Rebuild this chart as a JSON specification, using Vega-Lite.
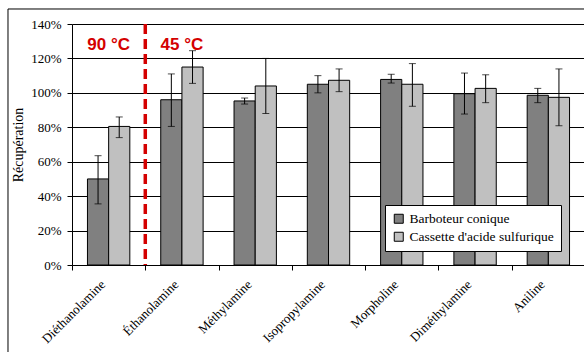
{
  "$schema": "https://vega.github.io/schema/vega-lite/v6.json",
  "width": 513,
  "height": 241,
  "autosize": "none",
  "padding": {"left": 72, "top": 24, "right": 0, "bottom": 87},
  "background": "white",
  "config": {
    "view": {"stroke": null},
    "font": "Liberation Serif",
    "axisY": {
      "titleFont": "Liberation Serif",
      "titleFontSize": 14,
      "titleFontWeight": "normal",
      "titleColor": "black",
      "titlePadding": 5,
      "labelFont": "Liberation Serif",
      "labelFontSize": 13,
      "labelColor": "black",
      "labelPadding": 6,
      "tickColor": "black",
      "tickSize": 5,
      "domainColor": "black",
      "grid": true,
      "gridColor": "black",
      "gridWidth": 1
    }
  },
  "datasets": {
    "bars": [
      {"compound": "Diéthanolamine", "series": "Barboteur conique", "value": 0.50, "lo": 0.355, "hi": 0.635},
      {"compound": "Diéthanolamine", "series": "Cassette d'acide sulfurique", "value": 0.805, "lo": 0.74, "hi": 0.86},
      {"compound": "Éthanolamine", "series": "Barboteur conique", "value": 0.96, "lo": 0.805, "hi": 1.11},
      {"compound": "Éthanolamine", "series": "Cassette d'acide sulfurique", "value": 1.15, "lo": 1.055, "hi": 1.245},
      {"compound": "Méthylamine", "series": "Barboteur conique", "value": 0.953, "lo": 0.935, "hi": 0.97},
      {"compound": "Méthylamine", "series": "Cassette d'acide sulfurique", "value": 1.04, "lo": 0.88, "hi": 1.20},
      {"compound": "Isopropylamine", "series": "Barboteur conique", "value": 1.05, "lo": 1.0, "hi": 1.10},
      {"compound": "Isopropylamine", "series": "Cassette d'acide sulfurique", "value": 1.073, "lo": 1.007, "hi": 1.139},
      {"compound": "Morpholine", "series": "Barboteur conique", "value": 1.078, "lo": 1.057, "hi": 1.108},
      {"compound": "Morpholine", "series": "Cassette d'acide sulfurique", "value": 1.05, "lo": 0.922, "hi": 1.17},
      {"compound": "Diméthylamine", "series": "Barboteur conique", "value": 0.995, "lo": 0.877, "hi": 1.115},
      {"compound": "Diméthylamine", "series": "Cassette d'acide sulfurique", "value": 1.026, "lo": 0.943, "hi": 1.105},
      {"compound": "Aniline", "series": "Barboteur conique", "value": 0.986, "lo": 0.943, "hi": 1.026},
      {"compound": "Aniline", "series": "Cassette d'acide sulfurique", "value": 0.974, "lo": 0.809, "hi": 1.139}
    ],
    "temps": [
      {"compound": "Diéthanolamine", "label": "90 °C"},
      {"compound": "Éthanolamine", "label": "45 °C"}
    ],
    "divider": [
      {"compound": "Éthanolamine"}
    ],
    "frame": [
      {"part": "frame"}
    ]
  },
  "layer": [
    {
      "layer": [
        {
          "data": {"name": "bars"},
          "encoding": {
            "x": {
              "field": "compound",
              "type": "nominal",
              "scale": {
                "domain": ["Diéthanolamine", "Éthanolamine", "Méthylamine", "Isopropylamine", "Morpholine", "Diméthylamine", "Aniline"],
                "paddingInner": 0,
                "paddingOuter": 0
              },
              "axis": {
                "title": null,
                "labelAngle": -45,
                "labelAlign": "right",
                "labelBaseline": "middle",
                "labelFont": "Liberation Serif",
                "labelFontSize": 13,
                "labelColor": "black",
                "labelPadding": 12,
                "labelOffset": -6,
                "tickBand": "extent",
                "tickColor": "black",
                "tickSize": 5,
                "domainColor": "black",
                "grid": false
              }
            },
            "xOffset": {
              "field": "series",
              "type": "nominal",
              "scale": {"paddingInner": 0, "paddingOuter": 0.73}
            }
          },
          "layer": [
            {
              "mark": {"type": "bar", "stroke": "black", "strokeWidth": 1},
              "encoding": {
                "y": {
                  "field": "value",
                  "type": "quantitative",
                  "scale": {"domain": [0, 1.4], "nice": false},
                  "axis": {"title": "Récupération", "titleFontSize": 14, "titleFont": "Liberation Serif", "titleFontWeight": "normal", "format": ".0%", "values": [0, 0.2, 0.4, 0.6, 0.8, 1.0, 1.2, 1.4]}
                },
                "color": {
                  "field": "series",
                  "type": "nominal",
                  "scale": {"range": ["#808080", "#C0C0C0"]},
                  "legend": {
                    "title": null,
                    "orient": "none",
                    "legendX": 313,
                    "legendY": 181,
                    "strokeColor": "black",
                    "fillColor": "white",
                    "padding": 7,
                    "symbolType": "square",
                    "symbolSize": 81,
                    "symbolStrokeColor": "black",
                    "symbolStrokeWidth": 1,
                    "labelFont": "Liberation Serif",
                    "labelFontSize": 13.5,
                    "labelColor": "black",
                    "rowPadding": 3
                  }
                }
              }
            },
            {
              "mark": {"type": "rule", "color": "black", "strokeWidth": 1},
              "encoding": {
                "y": {"field": "lo", "type": "quantitative", "axis": {"title": "Récupération", "titleFontSize": 14, "titleFont": "Liberation Serif", "titleFontWeight": "normal", "format": ".0%", "values": [0, 0.2, 0.4, 0.6, 0.8, 1.0, 1.2, 1.4]}},
                "y2": {"field": "hi"}
              }
            },
            {
              "mark": {"type": "tick", "color": "black", "size": 7, "thickness": 1},
              "encoding": {"y": {"field": "lo", "type": "quantitative", "axis": {"title": "Récupération", "titleFontSize": 14, "titleFont": "Liberation Serif", "titleFontWeight": "normal", "format": ".0%", "values": [0, 0.2, 0.4, 0.6, 0.8, 1.0, 1.2, 1.4]}}}
            },
            {
              "mark": {"type": "tick", "color": "black", "size": 7, "thickness": 1},
              "encoding": {"y": {"field": "hi", "type": "quantitative", "axis": {"title": "Récupération", "titleFontSize": 14, "titleFont": "Liberation Serif", "titleFontWeight": "normal", "format": ".0%", "values": [0, 0.2, 0.4, 0.6, 0.8, 1.0, 1.2, 1.4]}}}
            }
          ]
        },
        {
          "mark": {"type": "rule", "color": "#008000", "strokeWidth": 3},
          "encoding": {"y": {"datum": 1, "type": "quantitative", "axis": {"title": "Récupération", "titleFontSize": 14, "titleFont": "Liberation Serif", "titleFontWeight": "normal", "format": ".0%", "values": [0, 0.2, 0.4, 0.6, 0.8, 1.0, 1.2, 1.4]}}}
        },
        {
          "data": {"name": "divider"},
          "mark": {"type": "rule", "color": "#d40000", "strokeWidth": 3.5, "strokeDash": [10, 5]},
          "encoding": {
            "x": {"field": "compound", "type": "nominal", "bandPosition": 0}
          }
        },
        {
          "data": {"name": "temps"},
          "mark": {"type": "text", "font": "Liberation Sans", "fontSize": 17, "fontWeight": "bold", "color": "#d40000", "baseline": "middle"},
          "encoding": {
            "x": {"field": "compound", "type": "nominal"},
            "y": {"datum": 1.28, "type": "quantitative", "axis": {"title": "Récupération", "titleFontSize": 14, "titleFont": "Liberation Serif", "titleFontWeight": "normal", "format": ".0%", "values": [0, 0.2, 0.4, 0.6, 0.8, 1.0, 1.2, 1.4]}},
            "text": {"field": "label"}
          }
        }
      ]
    },
    {
      "data": {"name": "frame"},
      "layer": [
        {
          "mark": {"type": "rule", "color": "black", "strokeWidth": 1},
          "encoding": {
            "x": {"datum": -0.8733, "type": "quantitative", "scale": {"domain": [0, 7], "nice": false, "zero": false}, "axis": null},
            "x2": {"datum": 8},
            "y": {"datum": 1.4872, "type": "quantitative", "scale": {"domain": [0, 1.4], "nice": false}, "axis": null}
          }
        },
        {
          "mark": {"type": "rule", "color": "black", "strokeWidth": 1},
          "encoding": {
            "x": {"datum": -0.8733, "type": "quantitative", "scale": {"domain": [0, 7], "nice": false, "zero": false}, "axis": null},
            "y": {"datum": 1.4872, "type": "quantitative", "scale": {"domain": [0, 1.4], "nice": false}, "axis": null},
            "y2": {"datum": -0.6}
          }
        }
      ]
    }
  ],
  "resolve": {"scale": {"x": "independent", "y": "independent"}}
}
